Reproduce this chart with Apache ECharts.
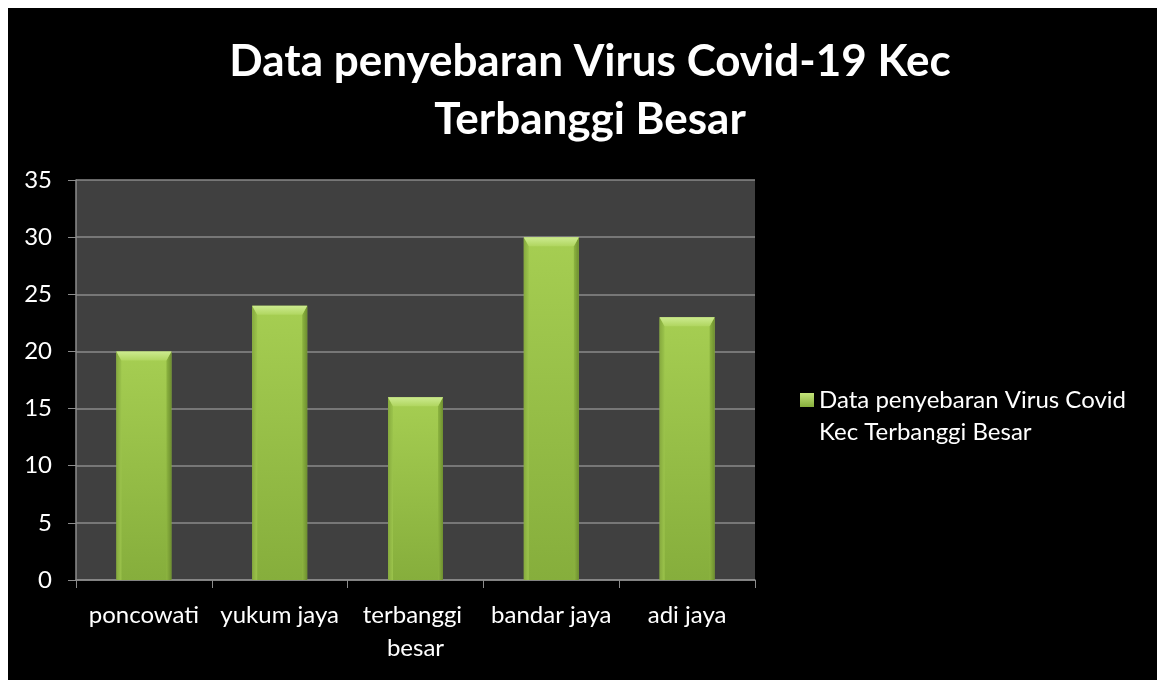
<!DOCTYPE html>
<html>
<head>
<meta charset="utf-8">
<script src="https://cdn.jsdelivr.net/npm/echarts@6/dist/echarts.min.js"></script>
<style>
html,body{margin:0;padding:0;background:#fff;width:1157px;height:680px;overflow:hidden;}
#c{position:absolute;left:8px;top:8px;width:1149px;height:672px;background:#000;}
</style>
</head>
<body>
<div id="c"></div>
<script>
const titleText = 'Data penyebaran Virus Covid-19 Kec\nTerbanggi Besar';
const seriesName = 'Data penyebaran Virus Covid Kec Terbanggi Besar';
const categories = ['poncowati', 'yukum jaya', 'terbanggi besar', 'bandar jaya', 'adi jaya'];
const values = [20, 24, 16, 30, 23];
const yTicks = { min: 0, max: 35, interval: 5 };

const FONT = 'Lato, "Open Sans", sans-serif';
const chart = echarts.init(document.getElementById('c'));

function renderBar(params, api) {
  const xi = api.value(0), v = api.value(1);
  const topPt = api.coord([xi, v]);
  const basePt = api.coord([xi, 0]);
  const bw = api.size([1, 0])[0] * 0.405;
  const l = topPt[0] - bw / 2, r = topPt[0] + bw / 2;
  const t = topPt[1], b = basePt[1];
  const bv = Math.min(9, (b - t) / 2);
  const se = 5;
  return {
    type: 'group',
    children: [
      { type: 'rect', shape: { x: l, y: t, width: r - l, height: b - t },
        style: { fill: new echarts.graphic.LinearGradient(0, 0, 0, 1, [
          { offset: 0, color: '#a6ce52' }, { offset: 1, color: '#86ae3c' }]) } },
      { type: 'polygon', shape: { points: [[l, t], [l + se, t + bv], [l + se, b], [l, b]] },
        style: { fill: new echarts.graphic.LinearGradient(0, 0, 1, 0, [
          { offset: 0, color: '#86aa3e' }, { offset: 1, color: '#9cc44c' }]) } },
      { type: 'polygon', shape: { points: [[r, t], [r - se, t + bv], [r - se, b], [r, b]] },
        style: { fill: new echarts.graphic.LinearGradient(0, 0, 1, 0, [
          { offset: 0, color: '#8db540' }, { offset: 1, color: '#6e8f30' }]) } },
      { type: 'polygon', shape: { points: [[l, t], [r, t], [r - se, t + bv], [l + se, t + bv]] },
        style: { fill: new echarts.graphic.LinearGradient(0, 0, 0, 1, [
          { offset: 0, color: '#cdeb90' }, { offset: 1, color: '#b0d660' }]) } }
    ]
  };
}

chart.setOption({
  backgroundColor: '#000',
  animation: false,
  title: {
    text: titleText,
    left: 577, top: 20, textAlign: 'center',
    textStyle: { color: '#fff', fontFamily: FONT, fontWeight: 'bold', fontSize: 44, lineHeight: 58 }
  },
  legend: {
    left: 787, top: 371,
    icon: 'path://M0,0L14,0L14,14L0,14Z M0,46L14,46',
    itemWidth: 14, itemHeight: 46, itemGap: 6,
    data: [seriesName],
    itemStyle: {
      borderWidth: 0,
      color: new echarts.graphic.LinearGradient(0, 0, 0, 1, [
        { offset: 0, color: '#c4e47a' }, { offset: 0.3, color: '#86ae3c' }, { offset: 1, color: '#86ae3c' }])
    },
    formatter: n => n.replace(' Kec', '\nKec'),
    textStyle: { color: '#fff', fontFamily: FONT, fontSize: 24, lineHeight: 32 }
  },
  grid: {
    left: 68, top: 172, width: 679, height: 400,
    show: true, backgroundColor: '#404040', borderWidth: 0
  },
  xAxis: {
    type: 'category', data: categories,
    axisLine: { lineStyle: { color: '#8c8c8c', width: 1.5 } },
    axisTick: { show: true, length: 8, lineStyle: { color: '#8c8c8c' } },
    axisLabel: { color: '#fff', fontFamily: FONT, fontSize: 24, margin: 19, lineHeight: 33,
      width: 130, overflow: 'break', interval: 0 }
  },
  yAxis: {
    type: 'value', min: yTicks.min, max: yTicks.max, interval: yTicks.interval,
    axisLine: { show: true, lineStyle: { color: '#8c8c8c', width: 1.5 } },
    axisTick: { show: true, length: 8, lineStyle: { color: '#8c8c8c' } },
    splitLine: { lineStyle: { color: '#8a8a8a', width: 1.5 } },
    axisLabel: { color: '#fff', fontFamily: FONT, fontSize: 24, margin: 24 }
  },
  series: [{
    name: seriesName,
    type: 'custom',
    renderItem: renderBar,
    itemStyle: { color: new echarts.graphic.LinearGradient(0, 0, 0, 1, [
      { offset: 0, color: '#b8dc6a' }, { offset: 1, color: '#88b03e' }]) },
    encode: { x: 0, y: 1 },
    data: values.map((v, i) => [i, v])
  }]
});
</script>
</body>
</html>
